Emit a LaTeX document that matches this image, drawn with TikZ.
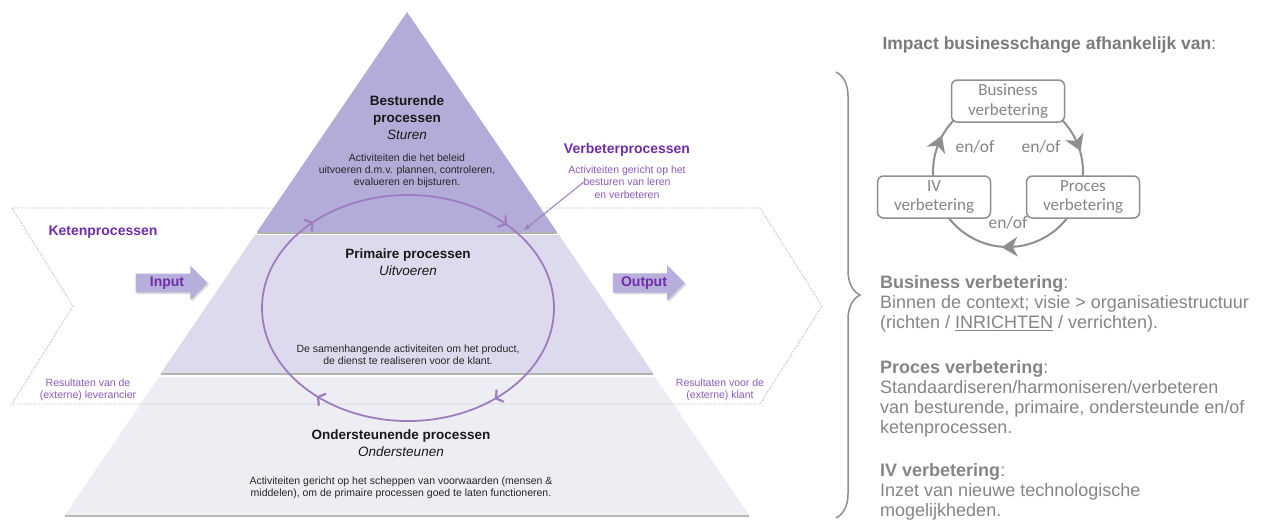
\documentclass[tikz,border=0pt]{standalone}
\usepackage{fontspec}
\setmainfont{Liberation Sans}
\newfontfamily\cyclusfont{Carlito}
\usetikzlibrary{calc,shapes.arrows,shadows,arrows.meta,decorations.pathreplacing}

\definecolor{ketenpaars}{HTML}{6F2DA8}
\definecolor{lichtpaars}{HTML}{8C5BB8}
\definecolor{lijnpaars}{HTML}{9E7CC1}
\definecolor{topvlak}{HTML}{B3ABD8}
\definecolor{middenvlak}{HTML}{DCDAEC}
\definecolor{ondervlak}{HTML}{EDEDF4}
\definecolor{pijlvlak}{HTML}{B8AEDC}
\definecolor{grijstekst}{HTML}{858585}
\definecolor{grijstitel}{HTML}{7A7A7A}
\definecolor{grijslijn}{HTML}{8F8F8F}

\tikzset{
  laagtitel/.style={align=center, font=\fontsize{13.5}{17}\selectfont\bfseries, text=black!90},
  laaguitleg/.style={align=center, font=\fontsize{10.5}{12}\selectfont, text=black!85},
  paarstitel/.style={font=\fontsize{14}{16}\selectfont\bfseries, text=ketenpaars},
  paarsuitleg/.style={align=center, font=\fontsize{10.5}{12.5}\selectfont, text=lichtpaars},
  blokpijl/.style={single arrow, fill=pijlvlak, single arrow head extend=8pt,
    minimum height=72pt, inner sep=3pt, font=\fontsize{14}{16}\selectfont\bfseries,
    text=ketenpaars, drop shadow={shadow xshift=1.5pt, shadow yshift=-1.5pt, opacity=0.3}},
  cyclusbox/.style={draw=grijslijn, line width=1.5pt, rounded corners=6pt, fill=white,
    minimum width=113pt, minimum height=42pt, align=center, inner sep=1pt,
    font=\cyclusfont\fontsize{17}{19.5}\selectfont, text=grijstekst},
  cyclustekst/.style={font=\cyclusfont\fontsize{17.5}{19}\selectfont, text=grijstekst},
  infotekst/.style={align=left, anchor=north west, inner sep=0pt,
    font=\fontsize{18}{20}\selectfont, text=grijstekst},
  lusteken/.style={lijnpaars, line width=2.2pt, line join=round},
}

\begin{document}
\begin{tikzpicture}[x=1pt, y=-1pt]
\fill[white] (0,0) rectangle (1268,520);
\useasboundingbox (0,0) rectangle (1268,520);

% piramide: onderste en middelste laag
\fill[ondervlak] (159,377) -- (655,377) -- (749,515) -- (65,515) -- cycle;
\draw[gray!55, line width=2pt] (65,516) -- (749,516);
\fill[middenvlak] (255,235) -- (559,235) -- (653,373) -- (161,373) -- cycle;
\draw[gray!60, line width=2pt] (161,374) -- (653,374);

% ketenprocessen
\draw[gray!60, line width=0.9pt, dash pattern=on 1pt off 1.5pt]
  (12,208) -- (760,208) -- (822,306) -- (760,404) -- (12,404) -- (73,306) -- cycle;

% bovenste laag
\fill[topvlak] (407,12) -- (557,232) -- (257,232) -- cycle;
\draw[gray!60, line width=2pt] (257,233) -- (557,233);

\node[laagtitel] (besturend) at (407,118) {Besturende\\processen\\{\mdseries\itshape Sturen}};
\node[laaguitleg] (besturenduitleg) at (407,171) {Activiteiten die het beleid\\uitvoeren d.m.v. plannen, controleren,\\evalueren en bijsturen.};
\node[laagtitel] (primair) at (408,262) {Primaire processen\\{\mdseries\itshape Uitvoeren}};
\node[laaguitleg] (primairuitleg) at (408,355) {De samenhangende activiteiten om het product,\\de dienst te realiseren voor de klant.};
\node[laagtitel] (ondersteunend) at (401,443) {Ondersteunende processen\\{\mdseries\itshape Ondersteunen}};
\node[laaguitleg] (ondersteunenduitleg) at (401,488) {Activiteiten gericht op het scheppen van voorwaarden (mensen \&\\middelen), om de primaire processen goed te laten functioneren.};

% verbetercyclus
\coordinate (lusmidden) at (408,308);
\draw[lijnpaars, line width=1.8pt] (lusmidden) ellipse[x radius=146, y radius=113];
\foreach \hoek in {53,128,229,312}{
  \pgfmathsetmacro{\richting}{atan2(113*cos(\hoek), -146*sin(\hoek))}
  \draw[lusteken, shift={($(lusmidden)+(\hoek:146 and 113)$)}, rotate=-\richting]
    (-5,-7) -- (0,0) -- (-5,7);
}

\node[paarstitel] (keten) at (103,232) {Ketenprocessen};
\node[paarstitel] (verbeter) at (627,150) {Verbeterprocessen};
\node[paarsuitleg] (verbeteruitleg) at (627,182) {Activiteiten gericht op het\\besturen van leren\\en verbeteren};
\coordinate (verbeterpunt) at (524,230);
\draw[-{Stealth[length=7pt,width=5pt]}, lijnpaars, line width=1pt] ([xshift=19pt]verbeteruitleg.west) -- (verbeterpunt);

\node[blokpijl] (invoer) at (167,283) {Input};
\node[blokpijl] (uitvoer) at (644,283) {Output};
\node[paarsuitleg] (leverancier) at (88,390) {Resultaten van de\\(externe) leverancier};
\node[paarsuitleg] (klant) at (720,390) {Resultaten voor de\\(externe) klant};

% rechterkant
\coordinate (accoladetop) at (836,72);
\coordinate (accoladebodem) at (836,518);
\draw[grijslijn, line width=1.5pt, decorate, decoration={brace, amplitude=24pt}] (accoladetop) -- (accoladebodem);

\node[font=\fontsize{17.5}{20}\selectfont, text=grijstitel, anchor=west] (impacttitel) at (879,45) {\textbf{Impact businesschange afhankelijk van}:};

\coordinate (cyclusmidden) at (1008,172);
\draw[grijslijn, line width=2pt] (cyclusmidden) circle[radius=75];
\foreach \hoek in {88,202,337}
  \fill[grijslijn, shift={($(cyclusmidden)+(\hoek:75)$)}, rotate=-\hoek-90]
    (9,0) -- (-7,10) -- (-2,0) -- (-7,-10) -- cycle;
\node[cyclusbox] (business) at (1008,101) {Business\\verbetering};
\node[cyclusbox] (iv) at (934,197) {IV\\verbetering};
\node[cyclusbox] (proces) at (1083,197) {Proces\\verbetering};
\node[cyclustekst] (enof1) at (975,147) {en/of};
\node[cyclustekst] (enof2) at (1041,147) {en/of};
\node[cyclustekst] (enof3) at (1008,223) {en/of};

\node[infotekst] (businesstekst) at (880,275) {\textbf{Business verbetering}:\\Binnen de context; visie > organisatiestructuur\\(richten / \underline{INRICHTEN} / verrichten).};
\node[infotekst] (procestekst) at (880,360) {\textbf{Proces verbetering}:\\Standaardiseren/harmoniseren/verbeteren\\van besturende, primaire, ondersteunde en/of\\ketenprocessen.};
\node[infotekst] (ivtekst) at (880,463) {\textbf{IV verbetering}:\\Inzet van nieuwe technologische\\mogelijkheden.};
\end{tikzpicture}
\end{document}
